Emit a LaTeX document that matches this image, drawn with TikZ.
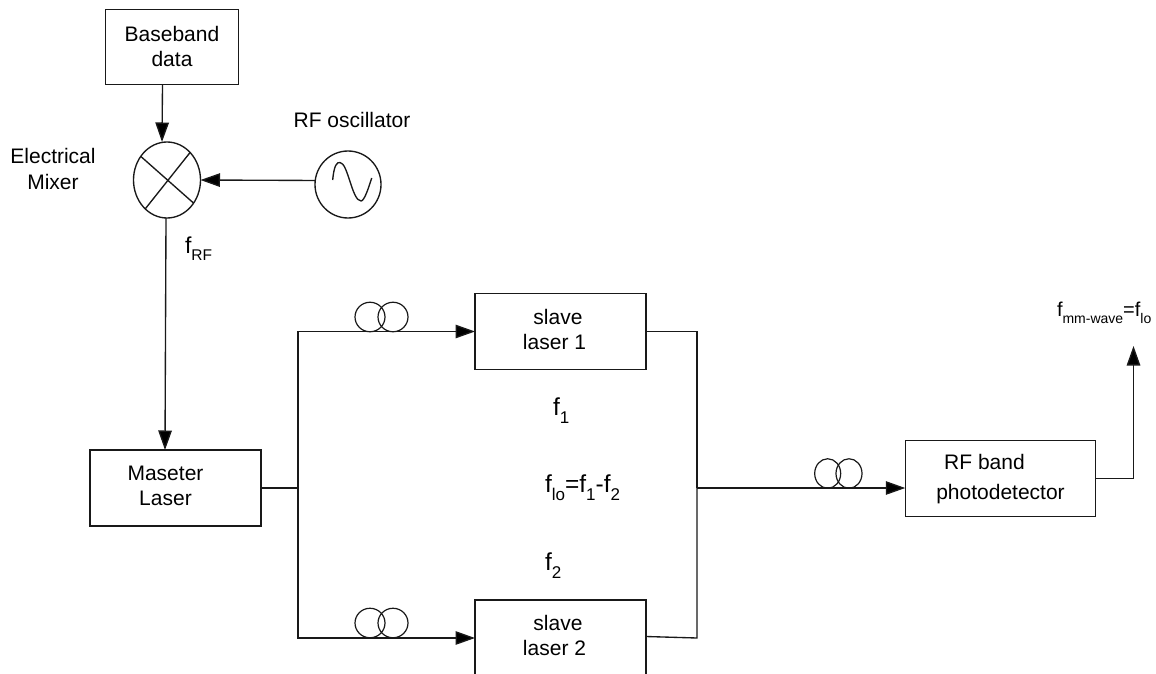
\documentclass[tikz,border=0pt]{standalone}
\usepackage{fontspec}
\setmainfont{Liberation Sans}
\usetikzlibrary{arrows.meta,shapes.geometric}
\tikzset{
  every node/.style={inner sep=0pt,outer sep=0pt},
  wire/.style={line width=1.35pt,draw=black!90},
  arrowwire/.style={wire,-{Triangle[length=19.5pt,width=13.5pt,fill=black]}},
  boxnode/.style={draw=black!90,line width=1.35pt,rectangle,minimum width=#1,align=center,font=\fontsize{21}{25}\selectfont},
  roundpart/.style={draw=black!90,line width=1.35pt,ellipse},
  fibre/.style={draw=black!90,line width=1.2pt,ellipse,minimum width=30pt,minimum height=29.5pt},
  fibrenarrow/.style={draw=black!90,line width=1.2pt,ellipse,minimum width=26pt,minimum height=29.5pt},
  plain/.style={anchor=base,align=center,font=\fontsize{21}{25.5}\selectfont},
  freq/.style={anchor=base west,font=\fontsize{24.5}{26}\selectfont}
}
\newcommand{\low}[1]{\raisebox{-8pt}{\fontsize{17}{18}\selectfont #1}}
\newcommand{\lowrf}[1]{\raisebox{-7.5pt}{\fontsize{15.5}{16}\selectfont #1}}
\newcommand{\lowsm}[1]{\raisebox{-7pt}{\fontsize{14}{15}\selectfont #1}}
\newcommand{\lift}[1]{\rule[-#1]{0pt}{#1}}
\begin{document}
\begin{tikzpicture}[x=1pt,y=-1pt]
\useasboundingbox (0,0) rectangle (1156,674);
\clip (0,0) rectangle (1156,674);
% boxes
\node[boxnode=133pt,minimum height=75.5pt] (bb) at (172,47) {Baseband\\data\lift{2pt}};
\node[boxnode=171pt,minimum height=76pt] (master) at (175.5,488) {Maseter\hspace*{20pt}\\Laser\hspace*{20pt}\lift{5pt}};
\node[boxnode=171pt,minimum height=75.5pt] (s1) at (560.5,331.5) {slave\hspace*{5pt}\\laser 1\hspace*{12pt}\lift{5pt}};
\node[boxnode=171pt,minimum height=76pt] (s2) at (560.5,638) {slave\hspace*{5pt}\\laser 2\hspace*{12pt}\lift{5pt}};
\node[boxnode=190.5pt,minimum height=76pt] (pd) at (1000.5,478.7) {RF band\hspace*{32pt}\\[5pt]photodetector};
% mixer and oscillator
\node[roundpart,minimum width=67pt,minimum height=76pt] (mixer) at (167,180) {};
\draw[wire] (mixer.138) -- (mixer.-41);
\draw[wire] (mixer.50) -- (mixer.233);
\node[roundpart,minimum width=66pt,minimum height=67pt] (osc) at (348,184.5) {};
\draw[wire] (332.7,180) .. controls (334,165) and (337,162) .. (340,162.5)
  .. controls (348,163) and (352,201) .. (361,201) .. controls (364,201) and (368,190) .. (371.7,178);
% coordinates
\coordinate (bl) at (298,488);
\coordinate (br) at (697,488);
\coordinate (out) at (1133.5,346);
% connectors
\draw[arrowwire] ([xshift=-9.5pt]bb.south) -- ([xshift=-5pt]mixer.north);
\draw[arrowwire] (osc.173) -- (mixer.east);
\draw[arrowwire] ([xshift=-1pt]mixer.south) -- ([xshift=-10.5pt]master.north);
\draw[wire] (master.east) -- (bl);
\draw[arrowwire] (bl) |- (s1.west);
\draw[arrowwire] (bl) |- (s2.west);
\draw[wire] (s1.east) -| (br);
\draw[wire] ([yshift=1.5pt]s2.east) -- (br |- s2.east) -- (br);
\draw[arrowwire] (br) -- (bl -| pd.west);
\draw[arrowwire] (pd.east) -| (out);
% fibre coils
\node[fibre] (c1a) at (370,317) {};
\node[fibre] (c1b) at (393,317) {};
\node[fibre] (c2a) at (370,623) {};
\node[fibre] (c2b) at (393,623) {};
\node[fibrenarrow] (c3a) at (827.7,473.5) {};
\node[fibrenarrow] (c3b) at (849,473.5) {};
% labels
\node[plain] (lmix) at (53,189) {Electrical\\Mixer};
\node[plain] (losc) at (352,128) {RF oscillator};
\node[freq,font=\fontsize{23}{26}\selectfont] (frf) at (185,253) {f\lowrf{RF}};
\node[freq] (f1) at (553,415) {f\low{1}};
\node[freq] (flo) at (545,492) {f\low{lo}=f\low{1}-f\low{2}};
\node[freq] (f2) at (545,570) {f\low{2}};
\node[freq,font=\fontsize{20}{24}\selectfont] (fmm) at (1057,316) {f\lowsm{mm-wave}=f\lowsm{lo}};
\end{tikzpicture}
\end{document}
